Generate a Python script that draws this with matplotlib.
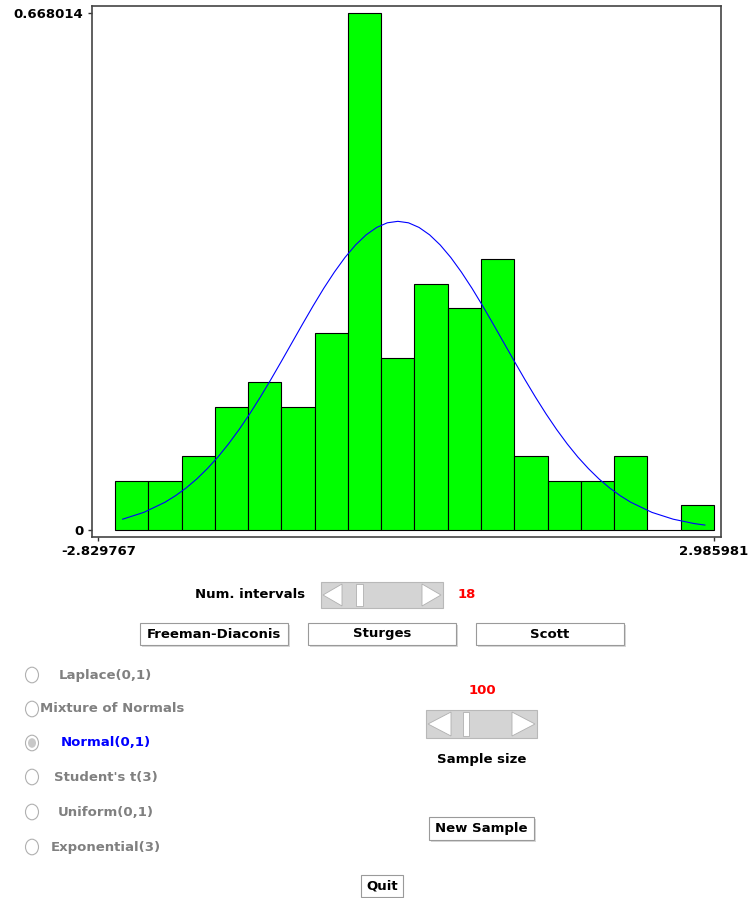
import numpy as np
import matplotlib.pyplot as plt
from matplotlib.patches import Rectangle, Polygon, Circle

# histogram data (density per bin, 18 intervals, sample size 100)
bin_start = -2.672571
bin_width = 0.314364
densities = [0.06362, 0.06362, 0.09543, 0.15905, 0.19086, 0.15905,
             0.25448, 0.668014, 0.22267, 0.31810, 0.28629, 0.34991,
             0.09543, 0.06362, 0.06362, 0.09543, 0.0, 0.03181]

# theoretical Normal(0,1) curve
curve_x = [-2.6, -2.4, -2.2, -2.1, -2.0, -1.9, -1.8, -1.7, -1.6, -1.5,
           -1.4, -1.3, -1.2, -1.1, -1.0, -0.9, -0.8, -0.7, -0.6, -0.5,
           -0.4, -0.3, -0.2, -0.1, 0.0, 0.1, 0.2, 0.3, 0.4, 0.5, 0.6,
           0.7, 0.8, 0.9, 1.0, 1.1, 1.2, 1.3, 1.4, 1.5, 1.6, 1.7, 1.8,
           1.9, 2.0, 2.1, 2.2, 2.4, 2.6, 2.8, 2.9]
curve_y = [0.0136, 0.0224, 0.0355, 0.0440, 0.0540, 0.0656, 0.0790,
           0.0940, 0.1109, 0.1295, 0.1497, 0.1714, 0.1942, 0.2179,
           0.2420, 0.2661, 0.2897, 0.3123, 0.3332, 0.3521, 0.3683,
           0.3814, 0.3910, 0.3970, 0.3989, 0.3970, 0.3910, 0.3814,
           0.3683, 0.3521, 0.3332, 0.3123, 0.2897, 0.2661, 0.2420,
           0.2179, 0.1942, 0.1714, 0.1497, 0.1295, 0.1109, 0.0940,
           0.0790, 0.0656, 0.0540, 0.0440, 0.0355, 0.0224, 0.0136,
           0.0079, 0.0060]

x_min_label = -2.829767
x_max_label = 2.985981
y_max_label = 0.668014

distributions = ["Laplace(0,1)", "Mixture of Normals", "Normal(0,1)",
                 "Student's t(3)", "Uniform(0,1)", "Exponential(3)"]
selected = "Normal(0,1)"
num_intervals = 18
sample_size = 100

W, H = 749, 898
fig = plt.figure(figsize=(W / 100, H / 100), dpi=100)
plt.rcParams['font.family'] = ['DejaVu Sans']

ax = fig.add_axes([91.7 / W, 1 - 536.7 / H, (721 - 91.7) / W, (536.7 - 6) / H])

edges = bin_start + bin_width * np.arange(len(densities) + 1)
ax.bar(edges[:-1], densities, width=bin_width, align="edge",
       color="#00ff00", edgecolor="black", linewidth=0.8)
ax.plot(curve_x, curve_y, color="#0000ff", linewidth=0.8)

ax.set_xlim(-2.8921, 3.0521)
ax.set_ylim(-0.00906, 0.67746)
ax.set_xticks([x_min_label, x_max_label])
ax.set_xticklabels(["%.6f" % x_min_label, "%.6f" % x_max_label])
ax.set_yticks([0, y_max_label])
ax.set_yticklabels(["0", "%.6f" % y_max_label])
ax.tick_params(direction="out", length=3, width=1, colors="#333333",
               labelsize=9.5, pad=3)
for lab in ax.get_xticklabels() + ax.get_yticklabels():
    lab.set_fontweight("bold")
    lab.set_color("black")
for sp in ax.spines.values():
    sp.set_color("#444444")
    sp.set_linewidth(1.2)


def fx(x):
    return x / W


def fy(y):
    return 1 - y / H


def label(x, y, s, color="black", ha="center"):
    fig.text(fx(x), fy(y), s, ha=ha, va="center", fontsize=9.5,
             fontweight="bold", color=color)


def button(x0, y0, x1, y1, s):
    fig.patches.append(Rectangle((fx(x0 + 1.5), fy(y1 + 1.5)), (x1 - x0) / W,
                                 (y1 - y0) / H, transform=fig.transFigure,
                                 facecolor="#d8d8d8", edgecolor="none"))
    fig.patches.append(Rectangle((fx(x0), fy(y1)), (x1 - x0) / W,
                                 (y1 - y0) / H, transform=fig.transFigure,
                                 facecolor="white", edgecolor="#9a9a9a",
                                 linewidth=0.8))
    label((x0 + x1) / 2, (y0 + y1) / 2, s)


def scrollbar(x0, y0, x1, y1, t0, t1, arrow_w):
    fig.patches.append(Rectangle((fx(x0), fy(y1)), (x1 - x0) / W,
                                 (y1 - y0) / H, transform=fig.transFigure,
                                 facecolor="#d4d4d4", edgecolor="#b8b8b8",
                                 linewidth=0.8))
    ym = (y0 + y1) / 2
    left = [(fx(x0 + 2), fy(ym)), (fx(x0 + arrow_w), fy(y0 + 2)),
            (fx(x0 + arrow_w), fy(y1 - 2))]
    right = [(fx(x1 - 2), fy(ym)), (fx(x1 - arrow_w), fy(y0 + 2)),
             (fx(x1 - arrow_w), fy(y1 - 2))]
    for pts in (left, right):
        fig.patches.append(Polygon(pts, closed=True, transform=fig.transFigure,
                                   facecolor="white", edgecolor="#b0b0b0",
                                   linewidth=0.6))
    fig.patches.append(Rectangle((fx(t0), fy(y1 - 2)), (t1 - t0) / W,
                                 (y1 - y0 - 4) / H, transform=fig.transFigure,
                                 facecolor="white", edgecolor="#b0b0b0",
                                 linewidth=0.6))


# number of intervals control
label(305, 595, "Num. intervals", ha="right")
scrollbar(321, 582, 443, 608, 356, 363, 21)
label(467, 595, str(num_intervals), color="#ff0000")

button(140, 623, 288, 645, "Freeman-Diaconis")
button(308, 623, 456, 645, "Sturges")
button(476, 623, 624, 645, "Scott")

# distribution radio buttons
radio_y = [675, 709, 743, 777, 812, 847]
label_x = [59, 40, 61, 54, 58, 51]
for name, ry, lx in zip(distributions, radio_y, label_x):
    fig.patches.append(Circle((fx(32), fy(ry)), 6.5 / W,
                              transform=fig.transFigure, facecolor="white",
                              edgecolor="#b0b0b0", linewidth=0.8))
    if name == selected:
        fig.patches.append(Circle((fx(32), fy(ry)), 4 / W,
                                  transform=fig.transFigure,
                                  facecolor="#c8c8c8", edgecolor="none"))
        label(lx, ry, name, color="#0000ff", ha="left")
    else:
        label(lx, ry, name, color="#808080", ha="left")

# sample size control
label(482, 690, str(sample_size), color="#ff0000")
scrollbar(426, 710, 537, 738, 463, 469, 25)
label(482, 760, "Sample size")
button(429, 817, 534, 840, "New Sample")
button(361, 875, 403, 897, "Quit")

fig.savefig("out.png", dpi=100)
